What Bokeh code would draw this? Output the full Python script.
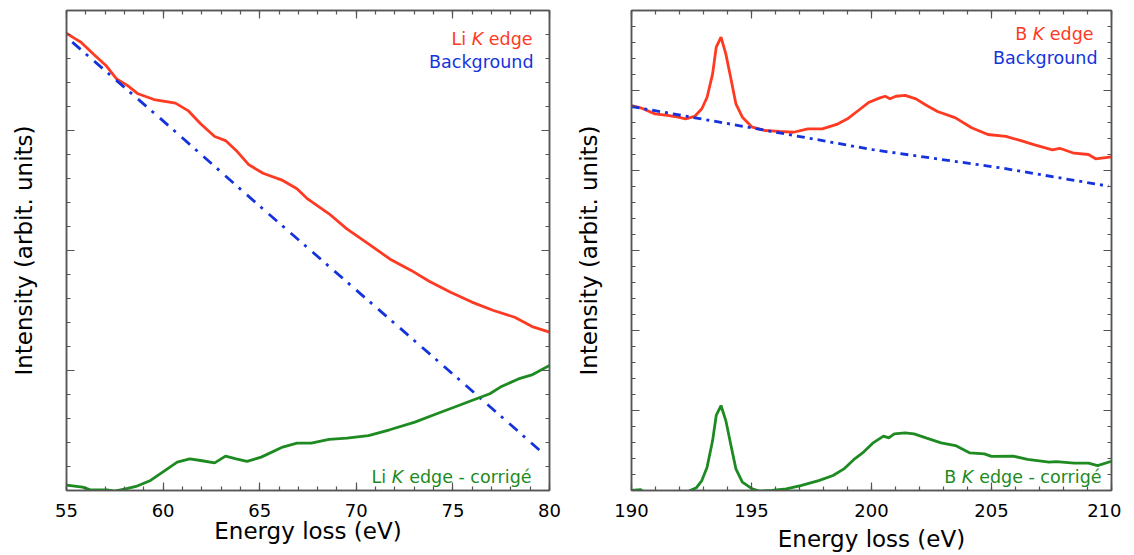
from bokeh.plotting import figure
from bokeh.models import Range1d, LinearAxis, SingleIntervalTicker, Label
from bokeh.layouts import row
from bokeh.embed import file_html
from bokeh.resources import INLINE

# ---------------- data ----------------
li_x = [55.0, 55.4, 55.75, 56.39, 57.04, 57.59, 58.15, 58.70, 59.53, 60.64, 61.29,
        61.94, 62.67, 63.23, 63.78, 64.43, 65.17, 66.19, 66.93, 67.48, 68.59, 69.51,
        70.63, 71.73, 72.84, 73.77, 74.88, 75.98, 77.10, 78.2, 79.1, 80.0]
li_edge = [19.05, 18.85, 18.68, 18.19, 17.71, 17.15, 16.88, 16.53, 16.29, 16.14, 15.83,
           15.28, 14.75, 14.58, 14.17, 13.58, 13.22, 12.92, 12.57, 12.15, 11.53, 10.90,
           10.28, 9.65, 9.17, 8.72, 8.26, 7.85, 7.5, 7.22, 6.83, 6.6]

li_bg_x = [55.3, 60.0, 65.0, 70.0, 75.0, 79.7]
li_bg = [18.68, 15.4, 11.85, 8.35, 4.85, 1.53]

li_corr_x = [55.0, 55.83, 56.2, 57.1, 57.5, 58.05, 58.6, 59.35, 60.09, 60.73, 61.38,
             61.94, 62.67, 63.23, 63.78, 64.34, 65.08, 66.19, 66.93, 67.67, 68.59, 69.51,
             70.63, 71.73, 73.03, 74.13, 75.06, 75.98, 76.91, 77.46, 78.39, 79.13, 80.0]
li_corr = [0.22, 0.14, 0.04, 0.03, -0.03, 0.07, 0.17, 0.42, 0.83, 1.18, 1.32,
           1.25, 1.15, 1.43, 1.32, 1.21, 1.39, 1.81, 1.97, 1.97, 2.13, 2.18,
           2.29, 2.53, 2.85, 3.19, 3.47, 3.75, 4.03, 4.31, 4.65, 4.83, 5.21]

b_x = [190.0, 190.38, 190.98, 191.5, 191.95, 192.25, 192.63, 192.93, 193.15, 193.38, 193.53,
       193.73, 193.93, 194.13, 194.35, 194.62, 195.03, 195.55, 196.15, 196.75, 197.35, 197.95,
       198.55, 199.0, 199.45, 199.9, 200.35, 200.57, 200.77, 201.02, 201.4, 201.85, 202.3,
       202.75, 203.5, 204.17, 204.85, 205.6, 206.19, 206.8, 207.54, 207.84, 208.44, 209.04,
       209.34, 210.0]
b_edge = [24.05, 23.92, 23.54, 23.44, 23.33, 23.23, 23.38, 23.86, 24.58, 26.04, 27.71,
          28.33, 27.29, 25.83, 24.17, 23.33, 22.71, 22.5, 22.44, 22.39, 22.6, 22.6,
          22.88, 23.23, 23.75, 24.27, 24.54, 24.64, 24.48, 24.64, 24.69, 24.48, 24.06,
          23.69, 23.29, 22.67, 22.25, 22.13, 21.88, 21.6, 21.29, 21.39, 21.08, 21.0,
          20.73, 20.85]

b_bg_x = [190.0, 195.25, 200.05, 205.45, 209.87]
b_bg = [24.0, 22.6, 21.3, 20.15, 19.02]

b_corr_x = [190.0, 190.38, 190.6, 191.5, 192.2, 192.4, 192.7, 192.93, 193.15, 193.38, 193.53,
            193.73, 193.93, 194.13, 194.35, 194.62, 195.03, 195.33, 195.85, 196.45, 197.05,
            197.8, 198.4, 198.85, 199.3, 199.67, 200.05, 200.5, 200.72, 200.95, 201.4,
            201.77, 202.3, 202.9, 203.5, 204.1, 204.7, 205.0, 205.9, 206.5, 207.4, 207.7,
            208.44, 209.04, 209.42, 210.0]
b_corr = [0.0, 0.06, -0.2, -0.35, -0.15, -0.04, 0.17, 0.62, 1.46, 3.12, 4.69,
          5.31, 4.37, 2.92, 1.35, 0.52, 0.1, -0.04, 0.0, 0.1, 0.31,
          0.62, 0.94, 1.35, 1.98, 2.4, 2.96, 3.4, 3.29, 3.54, 3.6,
          3.54, 3.27, 2.98, 2.81, 2.35, 2.29, 2.13, 2.15, 1.94, 1.77, 1.81,
          1.71, 1.71, 1.56, 1.83]

# ---------------- style ----------------
RED = "#FF3A22"
BLUE = "#1433DD"
GREEN = "#1E8A22"
FRAME = "#555555"
FONT = "DejaVu Sans"
LEG_SIZE = 17.5


def style_axis(ax, labels):
    ax.axis_line_color = FRAME
    ax.axis_line_width = 1.5
    ax.major_tick_line_color = FRAME
    ax.major_tick_line_width = 1.2
    ax.minor_tick_line_color = FRAME
    ax.minor_tick_line_width = 1.2
    ax.major_tick_in = 8
    ax.major_tick_out = 0
    ax.minor_tick_in = 4
    ax.minor_tick_out = 0
    ax.major_label_text_font = FONT
    if labels:
        ax.major_label_text_color = "black"
        ax.major_label_text_font_size = "18px"
        ax.major_label_standoff = 13
    else:
        ax.major_label_text_color = None
        ax.major_label_text_font_size = "1px"
        ax.major_label_standoff = 0


def make_panel(xr, yr, frame_w, left_border, right_border, xlabel_standoff):
    p = figure(frame_width=frame_w, frame_height=480,
               x_range=Range1d(*xr), y_range=Range1d(*yr),
               output_backend="svg", toolbar_location=None)
    p.min_border_left = left_border
    p.min_border_right = right_border
    p.min_border_top = 10
    p.min_border_bottom = 10
    p.grid.visible = False
    p.outline_line_color = FRAME
    p.outline_line_width = 1.5
    p.background_fill_color = "white"
    p.border_fill_color = "white"

    p.xaxis.ticker = SingleIntervalTicker(interval=5, num_minor_ticks=5)
    p.yaxis.ticker = SingleIntervalTicker(interval=5, num_minor_ticks=5)
    style_axis(p.xaxis[0], True)
    style_axis(p.yaxis[0], False)
    p.xaxis.axis_label = "Energy loss (eV)"
    p.yaxis.axis_label = "Intensity (arbit. units)"
    for ax in (p.xaxis[0], p.yaxis[0]):
        ax.axis_label_text_font = FONT
        ax.axis_label_text_font_size = "23px"
        ax.axis_label_text_font_style = "normal"
        ax.axis_label_text_color = "black"
    p.xaxis.axis_label_standoff = xlabel_standoff
    p.yaxis.axis_label_standoff = 30

    top = LinearAxis(ticker=SingleIntervalTicker(interval=5, num_minor_ticks=5))
    style_axis(top, False)
    p.add_layout(top, "above")
    right = LinearAxis(ticker=SingleIntervalTicker(interval=5, num_minor_ticks=5))
    style_axis(right, False)
    p.add_layout(right, "right")
    return p


SP = 0.318 * LEG_SIZE  # width of a space


def rich_label(p, x, y, parts, color, right_offset):
    # parts: list of (text, italic, width_em) ; placed right-to-left, ending at right_offset
    off = right_offset
    for text, italic, w in reversed(parts):
        p.add_layout(Label(x=x, y=y, x_offset=off, text=text, text_align="right",
                           text_baseline="alphabetic", text_font=FONT,
                           text_font_size=f"{LEG_SIZE}px", text_color=color,
                           text_font_style="italic" if italic else "normal"))
        off -= w * LEG_SIZE + SP


# ---------------- left panel ----------------
p1 = make_panel((55, 80), (0, 20), 483, 66, 21, -2)
p1.line(li_x, li_edge, line_color=RED, line_width=2.8)
p1.line(li_bg_x, li_bg, line_color=BLUE, line_width=2.8, line_dash="11 7 3 8")
p1.line(li_corr_x, li_corr, line_color=GREEN, line_width=2.8)

ypx1 = 20 / 480.0
rich_label(p1, 80, 20 - 28 * ypx1,
           [("Li", False, 0.835), ("K", True, 0.656), ("edge", False, 2.5)], RED, -17)
rich_label(p1, 80, 20 - 51 * ypx1, [("Background", False, 0)], BLUE, -16)
rich_label(p1, 80, 14 * ypx1,
           [("Li", False, 0.835), ("K", True, 0.656), ("edge - corrigé", False, 7.009)],
           GREEN, -18)

# ---------------- right panel ----------------
p2 = make_panel((190, 210), (0, 30), 480, 61, 10, 6)
p2.line(b_x, b_edge, line_color=RED, line_width=2.8)
p2.line(b_bg_x, b_bg, line_color=BLUE, line_width=2.8, line_dash="8 5 3 5")
p2.line(b_corr_x, b_corr, line_color=GREEN, line_width=2.8)

ypx2 = 30 / 480.0
rich_label(p2, 210, 30 - 23 * ypx2,
           [("B", False, 0.686), ("K", True, 0.656), ("edge", False, 2.5)], RED, -18)
rich_label(p2, 210, 30 - 47 * ypx2, [("Background", False, 0)], BLUE, -14)
rich_label(p2, 210, 14 * ypx2,
           [("B", False, 0.686), ("K", True, 0.656), ("edge - corrigé", False, 7.009)],
           GREEN, -10)

layout = row(p1, p2)
open("out.html", "w").write(file_html(layout, INLINE))
